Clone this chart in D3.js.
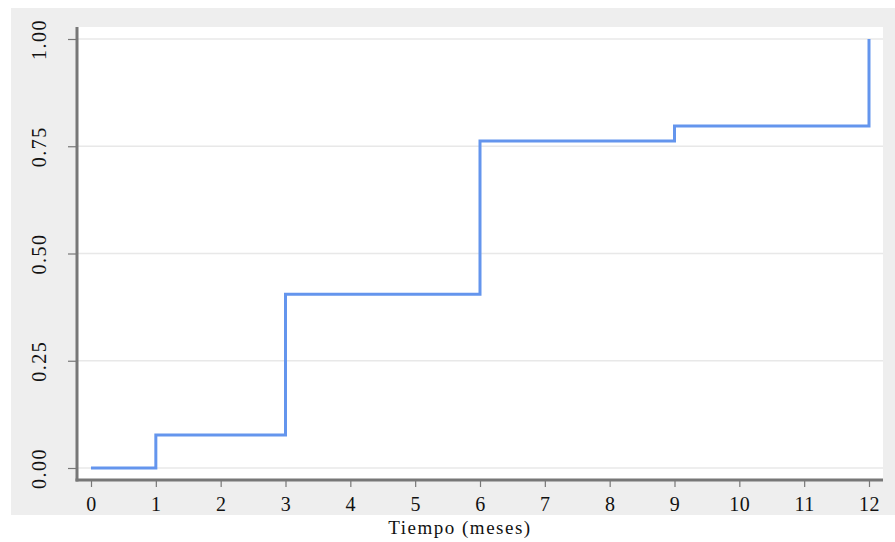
<!DOCTYPE html>
<html lang="es">
<head>
<meta charset="utf-8" />
<title>Tiempo (meses)</title>
<style>
  body { margin: 0; background: #fff; }
  svg text { font-family: "Liberation Serif", "Times New Roman", serif; fill: #111; }
</style>
</head>
<body>
<div id="chart"></div>
<script src="https://cdn.jsdelivr.net/npm/d3@7"></script>
<script>
// datos
var meses = [0, 1, 3, 6, 9, 12];
var valores = [0, 0.077, 0.405, 0.762, 0.797, 1.0];
var xTicks = [0, 1, 2, 3, 4, 5, 6, 7, 8, 9, 10, 11, 12];
var yTicks = [0, 0.25, 0.5, 0.75, 1.0];
var xTitulo = "Tiempo (meses)";

var W = 895, H = 542;
var svg = d3.select("#chart").append("svg")
  .attr("width", W).attr("height", H);

// fondo gris y region del grafico
svg.append("rect").attr("x", 11).attr("y", 8).attr("width", W - 11).attr("height", 507)
  .attr("fill", "#eeeeee");
svg.append("rect").attr("x", 78).attr("y", 27).attr("width", 805).attr("height", 452)
  .attr("fill", "#ffffff");

var x = d3.scaleLinear().domain([0, 12]).range([91, 869]);
var y = d3.scaleLinear().domain([0, 1]).range([468, 39]);

// lineas de rejilla
svg.append("g").selectAll("line").data(yTicks).enter().append("line")
  .attr("x1", 78).attr("x2", 883)
  .attr("y1", function(d) { return y(d); })
  .attr("y2", function(d) { return y(d); })
  .attr("stroke", "#e8e8e8").attr("stroke-width", 1.5);

// eje y
var yAxis = svg.append("g").attr("transform", "translate(77,0)")
  .call(d3.axisLeft(y).tickValues(yTicks).tickSize(9).tickPadding(26)
    .tickFormat(d3.format(".2f")));
yAxis.select(".domain").remove();
yAxis.selectAll(".tick line").attr("stroke", "#777").attr("stroke-width", 1.2);
yAxis.selectAll(".tick text")
  .attr("transform", "rotate(-90)")
  .attr("x", 0).attr("y", -38).attr("dy", "0.35em")
  .attr("text-anchor", "middle")
  .style("font-size", "20px").style("letter-spacing", "1.5px");

// eje x
var xAxis = svg.append("g").attr("transform", "translate(0,480)")
  .call(d3.axisBottom(x).tickValues(xTicks).tickSize(7).tickPadding(10)
    .tickFormat(d3.format("d")));
xAxis.select(".domain").remove();
xAxis.selectAll(".tick line").attr("stroke", "#777").attr("stroke-width", 1.2);
xAxis.selectAll(".tick text")
  .attr("dy", "0.71em")
  .style("font-size", "20px").style("letter-spacing", "0.5px");

// lineas de los ejes
svg.append("line").attr("x1", 77).attr("x2", 77).attr("y1", 27).attr("y2", 481.5)
  .attr("stroke", "#777").attr("stroke-width", 3);
svg.append("line").attr("x1", 75.5).attr("x2", 883).attr("y1", 480).attr("y2", 480)
  .attr("stroke", "#777").attr("stroke-width", 3);

// funcion escalonada
var datos = meses.map(function(m, i) { return { t: m, v: valores[i] }; });
var linea = d3.line()
  .x(function(d) { return x(d.t); })
  .y(function(d) { return y(d.v); })
  .curve(d3.curveStepAfter);
svg.append("path").datum(datos)
  .attr("d", linea)
  .attr("fill", "none")
  .attr("stroke", "#6495ed")
  .attr("stroke-width", 3);

// titulo eje x
svg.append("text")
  .attr("x", 460).attr("y", 534)
  .attr("text-anchor", "middle")
  .style("font-size", "19px").style("letter-spacing", "1.5px")
  .text(xTitulo);
</script>
</body>
</html>
